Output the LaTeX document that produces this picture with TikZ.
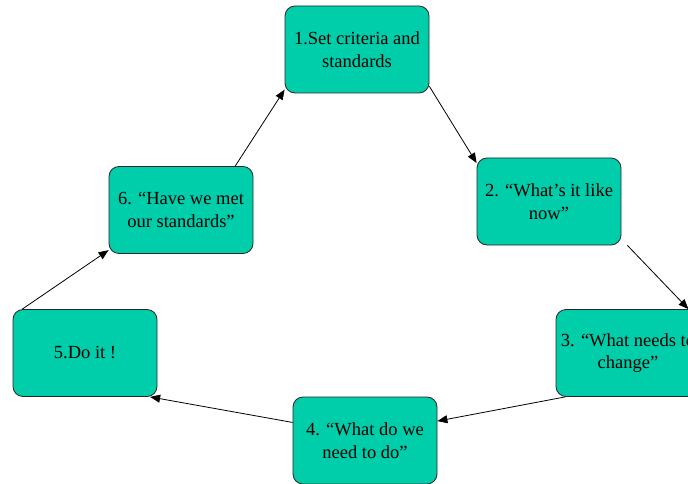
\documentclass[tikz,border=0pt]{standalone}
\usepackage{fontspec}
\setmainfont{Liberation Serif}
\usetikzlibrary{arrows.meta}
\definecolor{boxfill}{RGB}{0,206,170}
\tikzset{
  stepbox/.style={draw=black!85, line width=0.8pt, fill=boxfill, rounded corners=10pt,
    minimum width=144pt, minimum height=87pt, inner sep=2pt, align=center,
    font=\fontsize{18.5pt}{22.5pt}\selectfont},
  conn/.style={line width=0.8pt, -{Triangle[length=10pt,width=8pt]}}
}
\begin{document}
\begin{tikzpicture}[x=1pt,y=-1pt]
\useasboundingbox (0,0) rectangle (688,484);
\clip (0,0) rectangle (688,484);
\node[stepbox] (n1) at (357,49.5) {1.Set criteria and\\standards};
\node[stepbox] (n2) at (549,201.5) {2. “What’s it like\\now”};
\node[stepbox] (n3) at (628,353) {3. “What needs to\\change”};
\node[stepbox] (n4) at (365,440.5) {4. “What do we\\need to do”};
\node[stepbox] (n5) at (85,353) {5.Do it !};
\node[stepbox] (n6) at (181,210) {6. “Have we met\\our standards”};
\draw[conn] (n1.-27.5) -- (n2.152);
\draw[conn] ([xshift=6pt]n2.south east) -- (n3.36);
\draw[conn] (n3.215) -- (n4.15);
\draw[conn] (n4.166) -- (n5.-34);
\draw[conn] (n5.145.5) -- (n6.209);
\draw[conn] (n6.39) -- (n1.209);
\end{tikzpicture}
\end{document}
